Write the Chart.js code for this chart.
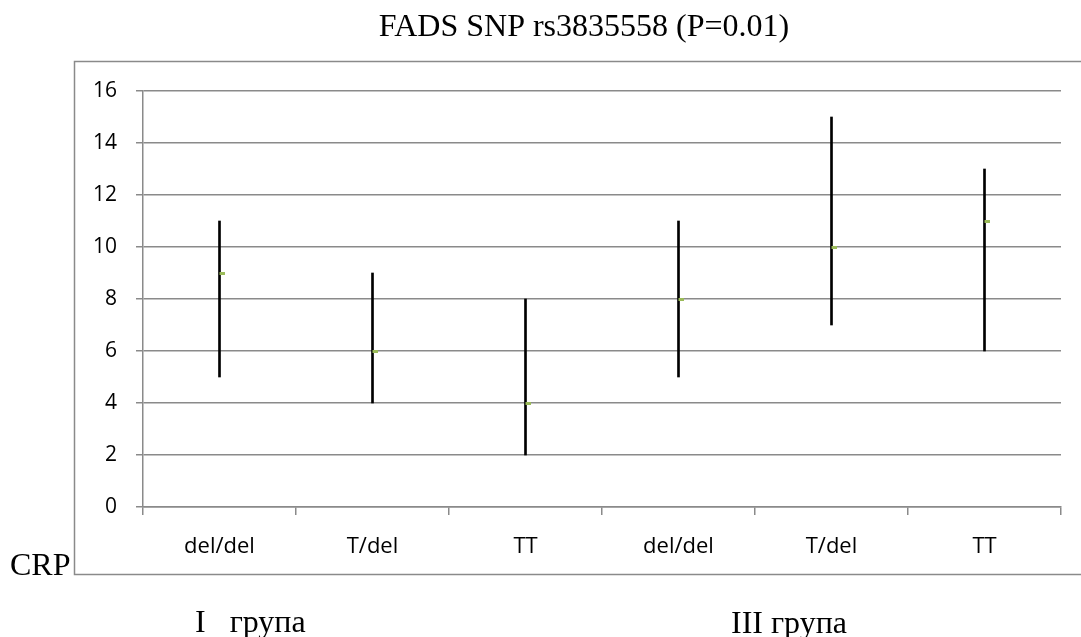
<!DOCTYPE html>
<html>
<head>
<meta charset="utf-8">
<script src="https://cdn.jsdelivr.net/npm/chart.js@4.4.1/dist/chart.umd.min.js"></script>
<style>
  html, body { margin: 0; padding: 0; background: #ffffff; }
  #wrap { position: relative; width: 1081px; height: 637px; }
</style>
</head>
<body>
<div id="wrap"><canvas id="c" width="1081" height="637" style="width:1081px;height:637px"></canvas></div>
<script>
// ---- data ----
const categories = ['del/del', 'T/del', 'TT', 'del/del', 'T/del', 'TT'];
const highValues = [11, 9, 8, 11, 15, 13];
const lowValues  = [5, 4, 2, 5, 7, 6];
const midValues  = [9, 6, 4, 8, 10, 11];
const yTicks     = [0, 2, 4, 6, 8, 10, 12, 14, 16];
const titleText  = 'FADS SNP rs3835558 (P=0.01)';
const axisLabel  = 'CRP';
const groupLabels = ['I   група', 'III група'];

// marker image (green small rectangle, slightly to the right of the line)
const marker = document.createElement('canvas');
marker.width = 10; marker.height = 3;
(function () {
  const m = marker.getContext('2d');
  m.fillStyle = '#9bbb59';
  m.fillRect(5, 0, 5, 3);
})();

const GRID = '#8a8a8a';

const frame = {
  id: 'frame',
  beforeDraw(chart) {
    const ctx = chart.ctx;
    ctx.save();
    ctx.strokeStyle = GRID;
    ctx.lineWidth = 1.5;
    ctx.strokeRect(74.5, 61.5, 1100, 513);
    ctx.restore();
  },
  afterDraw(chart) {
    const ctx = chart.ctx;
    const x = chart.scales.x;
    ctx.save();
    ctx.fillStyle = '#000';
    ctx.font = '32px "Liberation Serif", "Times New Roman", serif';
    ctx.textBaseline = 'alphabetic';
    ctx.textAlign = 'center';
    ctx.fillText(titleText, 584, 36);
    ctx.textAlign = 'left';
    ctx.fillText(axisLabel, 10, 575);
    ctx.fillText(groupLabels[0], 195, 632);
    ctx.fillText(groupLabels[1], 731, 633);
    ctx.restore();
  }
};

new Chart(document.getElementById('c'), {
  data: {
    labels: categories,
    datasets: [
      {
        type: 'bar',
        label: 'range',
        data: lowValues.map((l, i) => [l, highValues[i]]),
        backgroundColor: '#000000',
        borderWidth: 0,
        barThickness: 2,
        order: 2
      },
      {
        type: 'line',
        label: 'mid',
        data: midValues,
        showLine: false,
        pointStyle: marker,
        pointRadius: 3,
        order: 1
      }
    ]
  },
  options: {
    responsive: false,
    devicePixelRatio: 1,
    animation: false,
    layout: { padding: { left: 0, right: 20, top: 91, bottom: 0 } },
    plugins: {
      legend: { display: false },
      tooltip: { enabled: false },
      title: { display: false }
    },
    scales: {
      x: {
        type: 'category',
        offset: true,
        grid: {
          offset: true,
          drawOnChartArea: false,
          drawTicks: true,
          tickLength: 8,
          color: GRID,
          lineWidth: 1.5
        },
        border: { display: true, color: GRID, width: 1.5 },
        ticks: {
          padding: 19,
          color: '#000',
          font: { family: '"Open Sans", sans-serif', size: 22 },
          maxRotation: 0,
          autoSkip: false
        },
        afterFit(scale) { scale.height = 130; }
      },
      y: {
        min: 0,
        max: 16,
        afterBuildTicks(scale) { scale.ticks = yTicks.map(v => ({ value: v })); },
        grid: {
          color: GRID,
          lineWidth: 1.5,
          drawTicks: true,
          tickLength: 7
        },
        border: { display: true, color: GRID, width: 1.5 },
        ticks: {
          padding: 19,
          color: '#000',
          font: { family: '"Open Sans", sans-serif', size: 21 }
        },
        afterFit(scale) { scale.width = 143; }
      }
    }
  },
  plugins: [frame]
});
</script>
</body>
</html>
